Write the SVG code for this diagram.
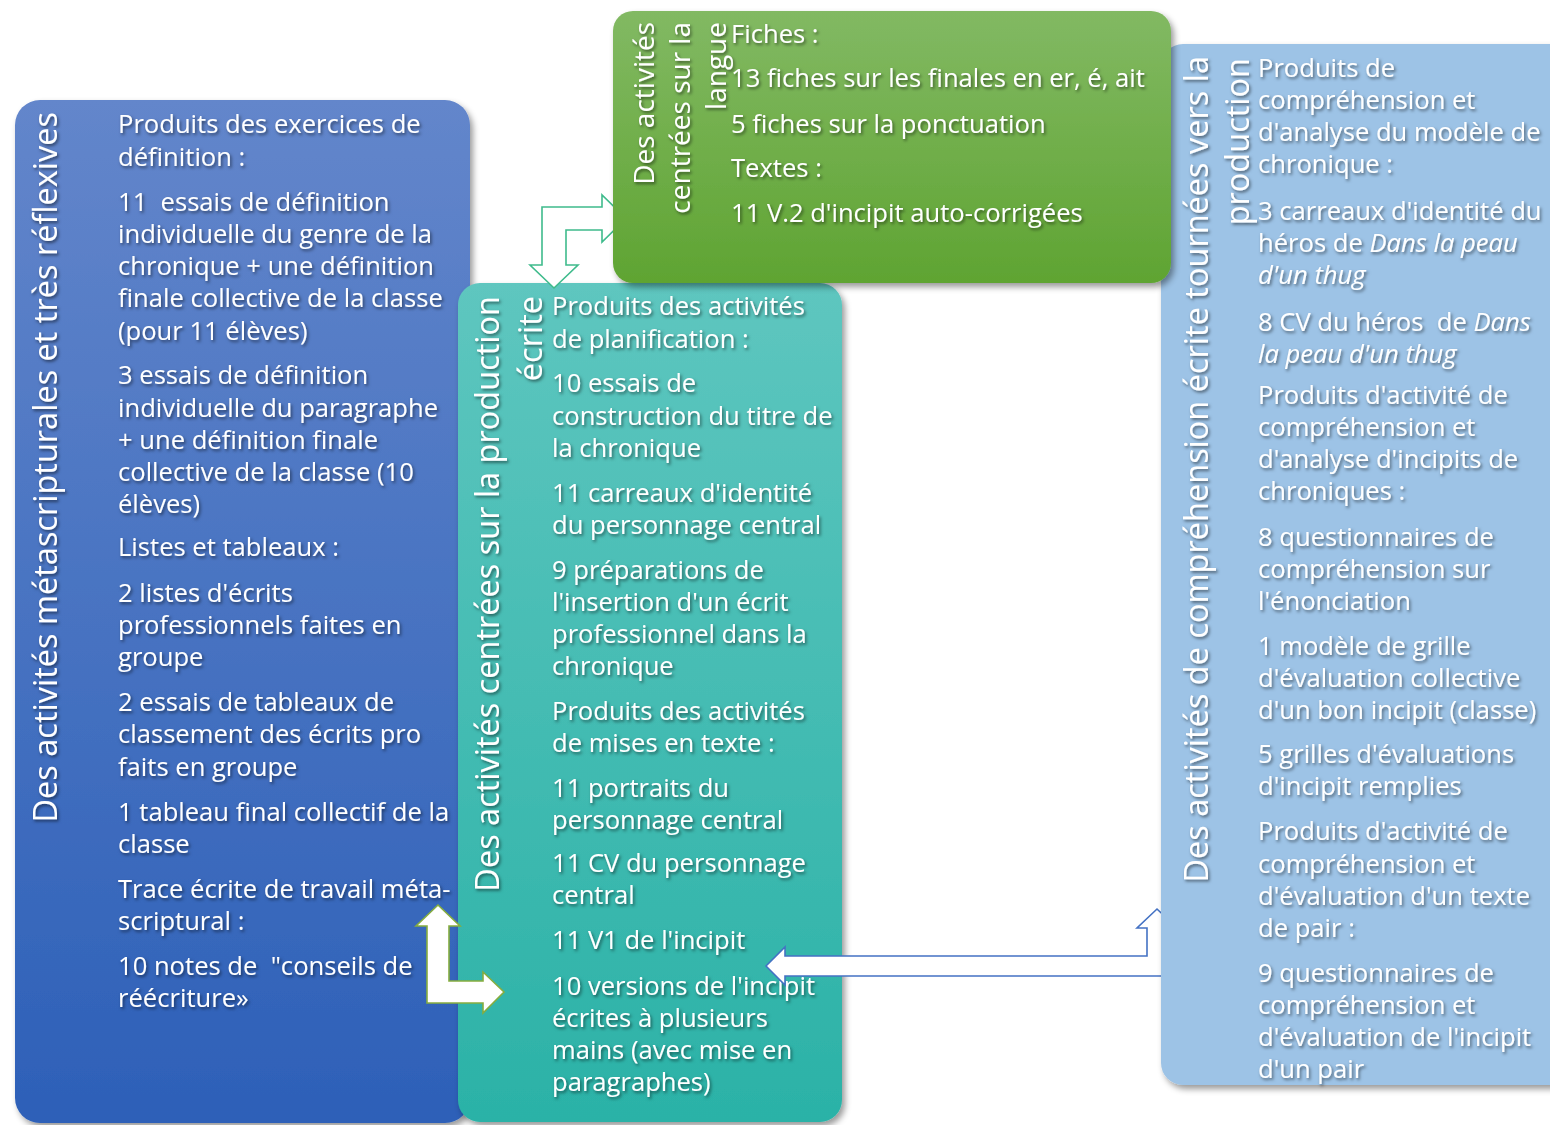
<svg xmlns="http://www.w3.org/2000/svg" width="1550" height="1125" viewBox="0 0 1550 1125">
<style>
text{font-family:"Open Sans","Noto Sans","DejaVu Sans",sans-serif;fill:#fff}
.body{font-size:25.6px}
.title{font-size:32.5px}
.gtitle{font-size:28px}
.it{font-style:italic}
.arrowG{fill:#fff;stroke:#3fbb8c;stroke-width:1.6}
.arrowL{fill:#fff;stroke:#86ad3f;stroke-width:1.6}
.arrowB{fill:#fff;stroke:#4472c4;stroke-width:1.6}
</style>
<defs>
<linearGradient id="gBlue" x1="0" y1="0" x2="0" y2="1"><stop offset="0" stop-color="#6386cb"/><stop offset="1" stop-color="#2d60b8"/></linearGradient>
<linearGradient id="gTeal" x1="0" y1="0" x2="0" y2="1"><stop offset="0" stop-color="#5ec6bf"/><stop offset="1" stop-color="#2bb2a7"/></linearGradient>
<linearGradient id="gGreen" x1="0" y1="0" x2="0" y2="1"><stop offset="0" stop-color="#82b963"/><stop offset="1" stop-color="#5fa432"/></linearGradient>
<filter id="ps" x="-10%" y="-10%" width="125%" height="125%"><feDropShadow dx="3" dy="4" stdDeviation="3" flood-color="#000" flood-opacity="0.4"/></filter>
<filter id="ts" x="-10%" y="-10%" width="125%" height="125%"><feDropShadow dx="1.5" dy="2" stdDeviation="1.8" flood-color="#000" flood-opacity="0.5"/></filter>
</defs>

<g id="node-metascriptural">
<rect x="15" y="100" width="455" height="1023" rx="25" fill="url(#gBlue)" filter="url(#ps)"/>
<g filter="url(#ts)">
<text class="title" text-anchor="end" transform="translate(57,112) rotate(-90)">Des activités métascripturales et très réflexives</text>
<text class="body">
<tspan x="118" y="133">Produits des exercices de</tspan>
<tspan x="118" y="166">définition :</tspan>
<tspan x="118" y="211">11 &#160;essais de définition</tspan>
<tspan x="118" y="243">individuelle du genre de la</tspan>
<tspan x="118" y="275">chronique + une définition</tspan>
<tspan x="118" y="307">finale collective de la classe</tspan>
<tspan x="118" y="340">(pour 11 élèves)</tspan>
<tspan x="118" y="384">3 essais de définition</tspan>
<tspan x="118" y="417">individuelle du paragraphe</tspan>
<tspan x="118" y="449">+ une définition finale</tspan>
<tspan x="118" y="481">collective de la classe (10</tspan>
<tspan x="118" y="513">élèves)</tspan>
<tspan x="118" y="556">Listes et tableaux :</tspan>
<tspan x="118" y="602">2 listes d'écrits</tspan>
<tspan x="118" y="634">professionnels faites en</tspan>
<tspan x="118" y="666">groupe</tspan>
<tspan x="118" y="711">2 essais de tableaux de</tspan>
<tspan x="118" y="743">classement des écrits pro</tspan>
<tspan x="118" y="776">faits en groupe</tspan>
<tspan x="118" y="821">1 tableau final collectif de la</tspan>
<tspan x="118" y="853">classe</tspan>
<tspan x="118" y="898">Trace écrite de travail méta-</tspan>
<tspan x="118" y="930">scriptural :</tspan>
<tspan x="118" y="975">10 notes de &#160;"conseils de</tspan>
<tspan x="118" y="1007">réécriture»</tspan>
</text>
</g>
</g>

<g id="node-production">
<rect x="458" y="283" width="384" height="839" rx="22" fill="url(#gTeal)" filter="url(#ps)"/>
<g filter="url(#ts)">
<text class="title" text-anchor="end" transform="translate(499,296) rotate(-90)">Des activités centrées sur la production</text>
<text class="title" text-anchor="end" transform="translate(542,296) rotate(-90)">écrite</text>
<text class="body">
<tspan x="552" y="315">Produits des activités</tspan>
<tspan x="552" y="348">de planification :</tspan>
<tspan x="552" y="392">10 essais de</tspan>
<tspan x="552" y="425">construction du titre de</tspan>
<tspan x="552" y="457">la chronique</tspan>
<tspan x="552" y="502">11 carreaux d'identité</tspan>
<tspan x="552" y="534">du personnage central</tspan>
<tspan x="552" y="579">9 préparations de</tspan>
<tspan x="552" y="611">l'insertion d'un écrit</tspan>
<tspan x="552" y="643">professionnel dans la</tspan>
<tspan x="552" y="675">chronique</tspan>
<tspan x="552" y="720">Produits des activités</tspan>
<tspan x="552" y="752">de mises en texte :</tspan>
<tspan x="552" y="797">11 portraits du</tspan>
<tspan x="552" y="829">personnage central</tspan>
<tspan x="552" y="872">11 CV du personnage</tspan>
<tspan x="552" y="904">central</tspan>
<tspan x="552" y="949">11 V1 de l'incipit</tspan>
<tspan x="552" y="995">10 versions de l'incipit</tspan>
<tspan x="552" y="1027">écrites à plusieurs</tspan>
<tspan x="552" y="1059">mains (avec mise en</tspan>
<tspan x="552" y="1091">paragraphes)</tspan>
</text>
</g>
</g>

<g id="connectors">
<path class="arrowG" d="M542,207 L602,207 L602,195 L626,218.5 L602,242 L602,230 L566,230 L566,265 L578,265 L554,288 L530,265 L542,265 Z"/>
<path class="arrowL" d="M438,905 L460,926 L449,926 L449,981 L483,981 L483,972 L504,992 L483,1013 L483,1003 L427,1003 L427,926 L416,926 Z"/>
<path class="arrowB" d="M766,966 L785,947 L785,956 L1147,956 L1147,928 L1137,928 L1157,909 L1177,928 L1167,928 L1167,976 L785,976 L785,985 Z"/>
</g>

<g id="node-comprehension">
<rect x="1161" y="44" width="420" height="1041" rx="22" fill="#9dc3e6" filter="url(#ps)"/>
<g filter="url(#ts)">
<text class="title" text-anchor="end" transform="translate(1208,56) rotate(-90)">Des activités de compréhension écrite tournées vers la</text>
<text class="title" text-anchor="end" transform="translate(1249,58) rotate(-90)">production</text>
<text class="body">
<tspan x="1258" y="77">Produits de</tspan>
<tspan x="1258" y="109">compréhension et</tspan>
<tspan x="1258" y="141">d'analyse du modèle de</tspan>
<tspan x="1258" y="173">chronique :</tspan>
<tspan x="1258" y="220">3 carreaux d'identité du</tspan>
<tspan x="1258" y="252">héros de <tspan class="it">Dans la peau</tspan></tspan>
<tspan x="1258" y="284" class="it">d'un thug</tspan>
<tspan x="1258" y="331">8 CV du héros &#160;de <tspan class="it">Dans</tspan></tspan>
<tspan x="1258" y="363" class="it">la peau d'un thug</tspan>
<tspan x="1258" y="404">Produits d'activité de</tspan>
<tspan x="1258" y="436">compréhension et</tspan>
<tspan x="1258" y="468">d'analyse d'incipits de</tspan>
<tspan x="1258" y="500">chroniques :</tspan>
<tspan x="1258" y="546">8 questionnaires de</tspan>
<tspan x="1258" y="578">compréhension sur</tspan>
<tspan x="1258" y="610">l'énonciation</tspan>
<tspan x="1258" y="655">1 modèle de grille</tspan>
<tspan x="1258" y="687">d'évaluation collective</tspan>
<tspan x="1258" y="719">d'un bon incipit (classe)</tspan>
<tspan x="1258" y="763">5 grilles d'évaluations</tspan>
<tspan x="1258" y="795">d'incipit remplies</tspan>
<tspan x="1258" y="840">Produits d'activité de</tspan>
<tspan x="1258" y="873">compréhension et</tspan>
<tspan x="1258" y="905">d'évaluation d'un texte</tspan>
<tspan x="1258" y="937">de pair :</tspan>
<tspan x="1258" y="982">9 questionnaires de</tspan>
<tspan x="1258" y="1014">compréhension et</tspan>
<tspan x="1258" y="1046">d'évaluation de l'incipit</tspan>
<tspan x="1258" y="1078">d'un pair</tspan>
</text>
</g>
</g>

<g id="node-langue">
<rect x="613" y="11" width="558" height="272" rx="20" fill="url(#gGreen)" filter="url(#ps)"/>
<g filter="url(#ts)">
<text class="gtitle" text-anchor="end" transform="translate(654,22) rotate(-90)">Des activités</text>
<text class="gtitle" text-anchor="end" transform="translate(690,22) rotate(-90)">centrées sur la</text>
<text class="gtitle" text-anchor="end" transform="translate(726,22) rotate(-90)">langue</text>
<text class="body">
<tspan x="731" y="43">Fiches :</tspan>
<tspan x="731" y="87">13 fiches sur les finales en er, é, ait</tspan>
<tspan x="731" y="133">5 fiches sur la ponctuation</tspan>
<tspan x="731" y="177">Textes :</tspan>
<tspan x="731" y="222">11 V.2 d'incipit auto-corrigées</tspan>
</text>
</g>
</g>
</svg>
